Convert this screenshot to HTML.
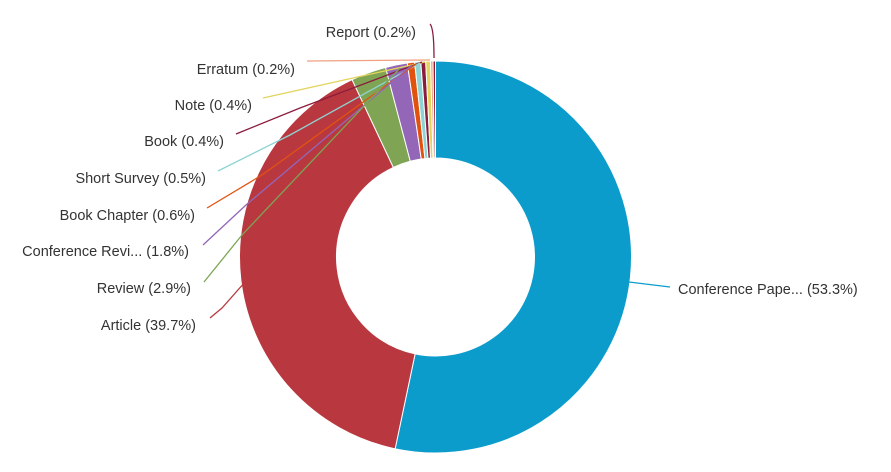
<!DOCTYPE html>
<html><head><meta charset="utf-8"><style>
html,body{margin:0;padding:0;background:#fff;width:891px;height:472px;overflow:hidden}
text{font-family:"Liberation Sans",sans-serif;font-size:14.5px;fill:#333}
</style></head><body>
<svg id="s" width="891" height="472" xmlns="http://www.w3.org/2000/svg">
<g id="slices"></g>
<g fill="none" stroke-width="1.3">
<path d="M430,24 Q434,28 434,58" stroke="#8b1c3c"/>
<path d="M307,61 L430,60" stroke="#f0a080"/>
<path d="M263,98 L380,72 L425,62" stroke="#e3d45e"/>
<path d="M236,134 L300,108 L422,62" stroke="#8b1c3c"/>
<path d="M218,171 L290,135 L420,63" stroke="#8fd4d4"/>
<path d="M207,208 L262,175 L416,64" stroke="#e2520f"/>
<path d="M203,245 L246,205 L412,65" stroke="#9366b8"/>
<path d="M204,282 L242,235 L400,68" stroke="#7ea454"/>
<path d="M210,318 L222,308 L245,282" stroke="#b9383f"/>
<path d="M629,282 L670,287" stroke="#0c9ccc"/>
</g>
<g text-anchor="end">
<text x="416" y="37">Report (0.2%)</text>
<text x="295" y="74">Erratum (0.2%)</text>
<text x="252" y="110">Note (0.4%)</text>
<text x="224" y="146">Book (0.4%)</text>
<text x="206" y="183">Short Survey (0.5%)</text>
<text x="195" y="220">Book Chapter (0.6%)</text>
<text x="189" y="256">Conference Revi... (1.8%)</text>
<text x="191" y="293">Review (2.9%)</text>
<text x="196" y="330">Article (39.7%)</text>
</g>
<text x="678" y="294">Conference Pape... (53.3%)</text>
</svg>
<script>
var cx=435.5,cy=257,R=196,r=99;
var d=[[53.3,"#0c9ccc"],[39.7,"#b9383f"],[2.9,"#7ea454"],[1.8,"#9366b8"],[0.6,"#e2520f"],[0.5,"#8fd4d4"],[0.4,"#8b1c3c"],[0.4,"#e3d45e"],[0.2,"#f0a080"],[0.2,"#8b1c3c"]];
var a=0,g=document.getElementById("slices"),h="";
function p(rad,ang){return [cx+rad*Math.sin(ang),cy-rad*Math.cos(ang)];}
d.forEach(function(s){var a2=a+s[0]/100*2*Math.PI,l=(a2-a)>Math.PI?1:0;
var o1=p(R,a),o2=p(R,a2),i1=p(r,a2),i2=p(r,a);
h+='<path d="M'+o1+' A'+R+','+R+' 0 '+l+' 1 '+o2+' L'+i1+' A'+r+','+r+' 0 '+l+' 0 '+i2+' Z" fill="'+s[1]+'" stroke="#fff" stroke-width="1"/>';a=a2;});
g.innerHTML=h;
</script>
</body></html>
